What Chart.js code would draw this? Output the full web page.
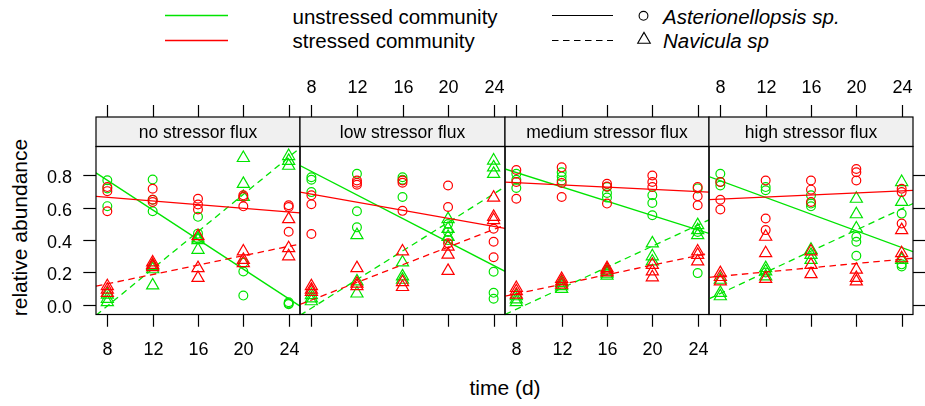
<!DOCTYPE html>
<html><head><meta charset="utf-8">
<script src="https://cdn.jsdelivr.net/npm/chart.js@4/dist/chart.umd.min.js"></script>
<style>
html,body{margin:0;padding:0;background:#fff;}
#wrap{position:relative;width:925px;height:406px;overflow:hidden;font-family:"Liberation Sans",Arial,sans-serif;color:#000;}
#wrap canvas{position:absolute;left:0;top:0;}
#wrap svg{position:absolute;left:0;top:0;}
.t{position:absolute;white-space:nowrap;font-size:21px;line-height:21px;}
.lg{font-size:20.5px;}
</style></head><body>
<div id="wrap">
<svg width="925" height="60" viewBox="0 0 925 60">
 <line x1="165" y1="15.5" x2="228" y2="15.5" stroke="#00E400" stroke-width="1.3"/>
 <line x1="165" y1="40.5" x2="228" y2="40.5" stroke="#FF0000" stroke-width="1.3"/>
 <line x1="552" y1="15.5" x2="613" y2="15.5" stroke="#000" stroke-width="1.2"/>
 <line x1="552" y1="40.5" x2="613" y2="40.5" stroke="#000" stroke-width="1.2" stroke-dasharray="6.5 4.5"/>
 <circle cx="643.5" cy="15.8" r="4.4" fill="none" stroke="#000" stroke-width="1.1"/>
 <polygon points="644,32.4 637.7,43.2 650.3,43.2" fill="none" stroke="#000" stroke-width="1.1"/>
</svg>
<div class="t lg" style="left:292.5px;top:6px;">unstressed community</div>
<div class="t lg" style="left:292.5px;top:30px;">stressed community</div>
<div class="t lg" style="left:663px;top:6px;font-style:italic;">Asterionellopsis sp.</div>
<div class="t lg" style="left:663px;top:30px;font-style:italic;">Navicula sp</div>
<div class="t" style="left:405px;top:377.2px;width:200px;text-align:center;">time (d)</div>
<div class="t" style="left:-131.3px;top:217px;width:300px;text-align:center;transform:rotate(-90deg);">relative abundance</div>
<canvas id="c0" width="925" height="406"></canvas>
<canvas id="c1" width="925" height="406"></canvas>
<canvas id="c2" width="925" height="406"></canvas>
<canvas id="c3" width="925" height="406"></canvas>
</div>
<script>
// ---- data ----
const days = [8, 12, 16, 20, 24];
const xTickValues = [8, 12, 16, 20, 24];
const yTickValues = [0, 0.2, 0.4, 0.6, 0.8];
const yTickLabels = ["0.0", "0.2", "0.4", "0.6", "0.8"];
const panelNames = ["no stressor flux", "low stressor flux", "medium stressor flux", "high stressor flux"];

// rows = days, 3 replicates each
const noFluxAsterUnstressed = [[0.77,0.72,0.61],[0.775,0.65,0.579],[0.544,0.44,0.41],[0.26,0.206,0.057],[0.016,0.008,0.004]];
const noFluxAsterStressed   = [[0.728,0.703,0.579],[0.718,0.65,0.636],[0.656,0.62,0.589],[0.677,0.667,0.609],[0.616,0.605,0.452]];
const noFluxNavUnstressed   = [[0.063,0.037,0.016],[0.24,0.22,0.12],[0.41,0.40,0.34],[0.908,0.748,0.667],[0.92,0.89,0.86]];
const noFluxNavStressed     = [[0.115,0.094,0.074],[0.262,0.247,0.233],[0.425,0.227,0.166],[0.33,0.278,0.258],[0.53,0.35,0.30]];

const lowFluxAsterUnstressed = [[0.789,0.773,0.697],[0.81,0.579,0.479],[0.789,0.773,0.667],[0.50,0.45,0.40],[0.204,0.074,0.037]];
const lowFluxAsterStressed   = [[0.677,0.622,0.438],[0.769,0.755,0.742],[0.769,0.755,0.581],[0.738,0.605,0.38],[0.47,0.39,0.294]];
const lowFluxNavUnstressed   = [[0.06,0.04,0.022],[0.431,0.145,0.07],[0.262,0.176,0.155],[0.53,0.47,0.42],[0.892,0.85,0.81]];
const lowFluxNavStressed     = [[0.115,0.094,0.08],[0.227,0.131,0.115],[0.33,0.14,0.11],[0.36,0.31,0.21],[0.663,0.544,0.524]];

const medFluxAsterUnstressed = [[0.81,0.773,0.722],[0.82,0.793,0.769],[0.728,0.691,0.663],[0.677,0.63,0.554],[0.72,0.45,0.196]];
const medFluxAsterStressed   = [[0.834,0.759,0.656],[0.85,0.753,0.667],[0.748,0.732,0.626],[0.80,0.759,0.728],[0.728,0.671,0.616]];
const medFluxNavUnstressed   = [[0.053,0.033,0.016],[0.135,0.115,0.098],[0.207,0.192,0.18],[0.38,0.30,0.268],[0.493,0.462,0.431]];
const medFluxNavStressed     = [[0.104,0.084,0.063],[0.16,0.145,0.125],[0.227,0.217,0.2],[0.247,0.207,0.17],[0.33,0.309,0.268]];

const highFluxAsterUnstressed = [[0.81,0.759,0.738],[0.728,0.708,0.2],[0.677,0.626,0.609],[0.421,0.39,0.303],[0.564,0.25,0.237]];
const highFluxAsterStressed   = [[0.759,0.65,0.589],[0.769,0.534,0.462],[0.769,0.712,0.636],[0.84,0.82,0.769],[0.718,0.697,0.503]];
const highFluxNavUnstressed   = [[0.155,0.074,0.053],[0.227,0.207,0.176],[0.34,0.309,0.278],[0.656,0.56,0.472],[0.759,0.636,0.278]];
const highFluxNavStressed     = [[0.196,0.172,0.145],[0.421,0.319,0.16],[0.33,0.247,0.19],[0.217,0.166,0.145],[0.462,0.319,0.288]];

// fitted lines: values at the panel's left and right limits (x = 7 and x = 25), one pair per panel
const fitX = [7, 25];
const fitAsterUnstressed = [[0.816,-0.008],[0.861,0.207],[0.84,0.442],[0.793,0.329]];
const fitAsterStressed   = [[0.671,0.569],[0.697,0.472],[0.759,0.697],[0.65,0.708]];
const fitNavUnstressed   = [[-0.065,0.97],[-0.065,0.73],[-0.06,0.525],[0.037,0.626]];
const fitNavStressed     = [[0.115,0.376],[0.002,0.493],[0.053,0.319],[0.17,0.288]];

// ---- layout / style ----
const GREEN = '#00E400', RED = '#FF0000';
const panelEdges = [96, 300, 505, 709, 913];
const AREA_TOP = 146.5, AREA_BOTTOM = 314.5, STRIP_TOP = 117;
const X_MIN = 7, X_MAX = 25, Y_MIN = -0.06, Y_MAX = 0.979;
const DASH = [6.5, 4.5];
const FONT = '"Liberation Sans", Arial, sans-serif';

const panelData = [
  [noFluxAsterUnstressed, noFluxAsterStressed, noFluxNavUnstressed, noFluxNavStressed],
  [lowFluxAsterUnstressed, lowFluxAsterStressed, lowFluxNavUnstressed, lowFluxNavStressed],
  [medFluxAsterUnstressed, medFluxAsterStressed, medFluxNavUnstressed, medFluxNavStressed],
  [highFluxAsterUnstressed, highFluxAsterStressed, highFluxNavUnstressed, highFluxNavStressed]
];

function toPoints(rows) {
  const pts = [];
  rows.forEach((reps, i) => reps.forEach(v => pts.push({x: days[i], y: v})));
  return pts;
}
function toLine(pair) {
  return [{x: fitX[0], y: pair[0]}, {x: fitX[1], y: pair[1]}];
}

const framePlugin = {
  id: 'frame',
  afterDraw(chart) {
    const p = chart.options.plugins.frame.panel;
    const ctx = chart.ctx, a = chart.chartArea;
    const xs = chart.scales.x, ys = chart.scales.y;
    ctx.save();
    // strip
    ctx.fillStyle = '#F0F0F0';
    ctx.fillRect(a.left, STRIP_TOP, a.right - a.left, a.top - STRIP_TOP);
    ctx.strokeStyle = '#000';
    ctx.lineWidth = 1.2;
    ctx.strokeRect(a.left, STRIP_TOP, a.right - a.left, a.top - STRIP_TOP);
    ctx.strokeRect(a.left, a.top, a.right - a.left, a.bottom - a.top);
    ctx.fillStyle = '#000';
    ctx.font = '17.5px ' + FONT;
    ctx.textAlign = 'center';
    ctx.textBaseline = 'alphabetic';
    ctx.fillText(panelNames[p], (a.left + a.right) / 2, 137.5);
    // x ticks
    ctx.lineWidth = 1.2;
    ctx.font = '18px ' + FONT;
    xTickValues.forEach(t => {
      const px = Math.round(xs.getPixelForValue(t)) + 0.5;
      ctx.beginPath();
      ctx.moveTo(px, a.bottom); ctx.lineTo(px, a.bottom + 12.2);
      ctx.moveTo(px, STRIP_TOP - 12); ctx.lineTo(px, STRIP_TOP);
      ctx.stroke();
      if (p % 2 === 0) ctx.fillText(String(t), px, 355);
      else ctx.fillText(String(t), px, 92.5);
    });
    // y ticks
    if (p === 0 || p === 3) {
      yTickValues.forEach((t, i) => {
        const py = Math.round(ys.getPixelForValue(t)) + 0.5;
        ctx.beginPath();
        if (p === 0) { ctx.moveTo(a.left - 12.7, py); ctx.lineTo(a.left, py); }
        else { ctx.moveTo(a.right, py); ctx.lineTo(a.right + 12.7, py); }
        ctx.stroke();
        if (p === 0) {
          ctx.textAlign = 'right';
          ctx.fillText(yTickLabels[i], 72, py + 7);
          ctx.textAlign = 'center';
        }
      });
    }
    ctx.restore();
  }
};

function makeChart(p) {
  const [aU, aS, nU, nS] = panelData[p];
  const ptBase = {type: 'scatter', showLine: false, backgroundColor: 'rgba(0,0,0,0)', pointBorderWidth: 1.2, pointHoverRadius: 0};
  const lnBase = {type: 'line', pointRadius: 0, borderWidth: 1.3, fill: false, tension: 0};
  const datasets = [
    Object.assign({}, ptBase, {data: toPoints(aS), pointStyle: 'circle', pointRadius: 4.4, borderColor: RED, pointBorderColor: RED}),
    Object.assign({}, ptBase, {data: toPoints(nS), pointStyle: 'triangle', pointRadius: 7, borderColor: RED, pointBorderColor: RED}),
    Object.assign({}, lnBase, {data: toLine(fitAsterStressed[p]), borderColor: RED}),
    Object.assign({}, lnBase, {data: toLine(fitNavStressed[p]), borderColor: RED, borderDash: DASH}),
    Object.assign({}, ptBase, {data: toPoints(aU), pointStyle: 'circle', pointRadius: 4.4, borderColor: GREEN, pointBorderColor: GREEN}),
    Object.assign({}, ptBase, {data: toPoints(nU), pointStyle: 'triangle', pointRadius: 7, borderColor: GREEN, pointBorderColor: GREEN}),
    Object.assign({}, lnBase, {data: toLine(fitAsterUnstressed[p]), borderColor: GREEN}),
    Object.assign({}, lnBase, {data: toLine(fitNavUnstressed[p]), borderColor: GREEN, borderDash: DASH})
  ];
  return new Chart(document.getElementById('c' + p), {
    type: 'scatter',
    data: {datasets},
    options: {
      responsive: false, animation: false, devicePixelRatio: 1,
      events: [],
      layout: {padding: {left: panelEdges[p], right: 925 - panelEdges[p + 1], top: AREA_TOP, bottom: 406 - AREA_BOTTOM}},
      scales: {
        x: {type: 'linear', min: X_MIN, max: X_MAX, display: false},
        y: {type: 'linear', min: Y_MIN, max: Y_MAX, display: false}
      },
      plugins: {legend: {display: false}, tooltip: {enabled: false}, title: {display: false}, frame: {panel: p}}
    },
    plugins: [framePlugin]
  });
}
[0, 1, 2, 3].forEach(makeChart);
</script>
</body></html>
